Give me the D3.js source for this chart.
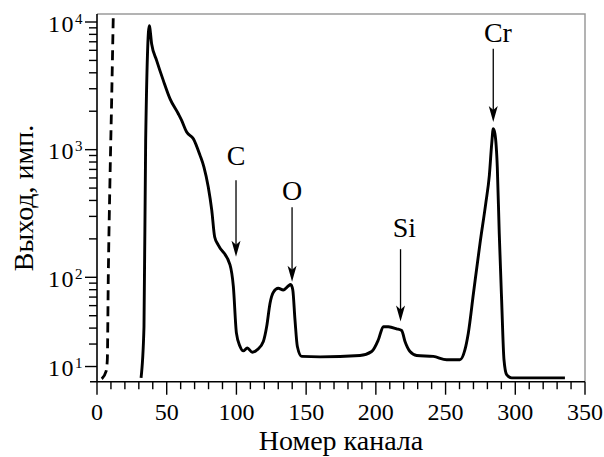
<!DOCTYPE html>
<html>
<head>
<meta charset="utf-8">
<script src="https://cdn.jsdelivr.net/npm/d3@7"></script>
<style>
  body { margin: 0; background: #fff; }
  text { font-family: "Liberation Serif", "DejaVu Serif", serif; fill: #000; }
</style>
</head>
<body>
<div id="graph"></div>
<script>
// main spectrum (channel, counts)
var mainChannel = [31.6, 33.7, 34.9, 37.5, 39.2, 42.8, 47.6, 52.4, 58.3, 60.7, 64.3, 69.1, 73.9, 76.7, 79.8, 82.3, 84.4, 87, 95.4,
  97.8, 100, 102.6, 104.9, 107.8, 111.4, 115, 119.3, 121.7, 124.1, 126.5, 130, 133.6, 137.2, 138.9, 140.4, 142, 143.7, 146.8,
  160, 188.6, 197, 201.8, 205.4, 209, 214.9, 218.5, 220.9, 224.5, 229.3, 241.2, 250.8, 260.3, 263.9, 266.3, 270, 274.7,
  278.8, 281.4, 283.1, 284.2, 285.4, 287.1, 288.5, 290.2, 291.9, 293.8, 297.4, 335.6]
var mainCounts = [16.3, 41, 1180, 9350, 6730, 4985, 3474, 2500, 1910, 1694, 1373, 1219, 902, 731, 510, 336, 207, 179, 125,
  84.5, 36.5, 28.7, 26.5, 27.9, 25.9, 27.1, 31.4, 41.1, 62.7, 76.4, 82, 79.5, 85.5, 88, 80, 46.4, 28.7, 24,
  23.8, 24.4, 26.2, 32.4, 41.1, 41, 39.5, 38.3, 31.4, 26.2, 24.4, 24, 22.6, 22.6, 27.1, 36.5, 75, 184.5,
  378, 630, 1113, 1459, 1333, 731, 221, 66.6, 22.6, 17.3, 16.3, 16.3]

// dashed spectrum, runs off the top
var dashChannel = [3.4, 6.5, 7.4, 8.1, 9.3, 10.5, 11.7, 12.5]
var dashCounts = [16, 18.3, 22.6, 101, 575, 2427, 11400, 30000]

// peak annotations
var annLabels = ["C", "O", "Si", "Cr"]
var annChannel = [99.7, 139.9, 217.7, 284.2]
var annTip = [144.9, 92.4, 45.0, 1643]
var annTail = [575, 354, 166, 6180]
var annText = [754, 402, 207, 6930]

// axis ticks
var xMajor = [0, 50, 100, 150, 200, 250, 300, 350]
var xMinor = d3.range(0, 351, 10)
var yMajor = [20, 100, 1000, 10000]
var yMajorExp = ["1", "2", "3", "4"]
var yMinor = [30, 40, 50, 60, 70, 80, 90, 200, 300, 400, 500, 600, 700, 800, 900,
  2000, 3000, 4000, 5000, 6000, 7000, 8000, 9000]

var w = 604, h = 457
var mLeft = 97, mRight = 585, mTop = 14, mBottom = 381.7

var x = d3.scaleLinear().domain([0, 350]).range([mLeft, mRight])
var y = d3.scaleLog().domain([100, 10000]).range([277.3, 22])

var svg = d3.select('#graph')
  .append('svg')
  .attr("width", w)
  .attr("height", h)

svg.append("clipPath").attr("id", "clip")
  .append("rect")
  .attr("x", mLeft).attr("y", mTop)
  .attr("width", mRight - mLeft).attr("height", mBottom - mTop)

// frame: gray top / right
svg.append("path")
  .attr("d", `M${mLeft},${mTop}H${mRight}V${mBottom}`)
  .attr("fill", "none")
  .attr("stroke", "#9a9a9a")
  .attr("stroke-width", 1.5)

// x axis
svg.append("line")
  .attr("x1", mLeft - 7).attr("x2", mRight)
  .attr("y1", mBottom).attr("y2", mBottom)
  .attr("stroke", "#000").attr("stroke-width", 1.6)

svg.append("g").selectAll("line")
  .data(xMinor)
  .enter().append("line")
  .attr("x1", d => x(d)).attr("x2", d => x(d))
  .attr("y1", mBottom)
  .attr("y2", d => mBottom + (xMajor.includes(d) ? 13 : 7.5))
  .attr("stroke", "#000").attr("stroke-width", 1.4)

svg.append("g").selectAll("text")
  .data(xMajor)
  .enter().append("text")
  .attr("x", d => x(d))
  .attr("y", 420)
  .attr("text-anchor", "middle")
  .style("font-size", "24px")
  .text(d => d)

// y axis
svg.append("line")
  .attr("x1", mLeft).attr("x2", mLeft)
  .attr("y1", mTop).attr("y2", mBottom)
  .attr("stroke", "#000").attr("stroke-width", 1.6)

svg.append("g").selectAll("line")
  .data(yMajor.concat(yMinor))
  .enter().append("line")
  .attr("x1", mLeft)
  .attr("x2", d => mLeft - (yMajor.includes(d) ? 12 : 8))
  .attr("y1", d => y(d)).attr("y2", d => y(d))
  .attr("stroke", "#000").attr("stroke-width", 1.4)

var yLab = svg.append("g").selectAll("text")
  .data(yMajor)
  .enter().append("text")
  .attr("x", 48)
  .attr("y", d => y(d) + 9.5)
  .style("font-size", "24px")

yLab.append("tspan").attr("letter-spacing", "1.5px").text("10")
yLab.append("tspan")
  .attr("dy", -8)
  .style("font-size", "15px")
  .text((d, i) => yMajorExp[i])

// axis titles
svg.append("text")
  .attr("x", (mLeft + mRight) / 2)
  .attr("y", 450)
  .attr("text-anchor", "middle")
  .style("font-size", "28px")
  .text("Номер канала")

svg.append("text")
  .attr("transform", "translate(33,198) rotate(-90)")
  .attr("text-anchor", "middle")
  .style("font-size", "28px")
  .text("Выход, имп.")

// curves
var plot = svg.append("g").attr("clip-path", "url(#clip)")

var line = d3.line()
  .x(d => x(d[0]))
  .y(d => y(d[1]))
  .curve(d3.curveMonotoneX)

plot.append("path")
  .attr("d", line(d3.zip(dashChannel, dashCounts)))
  .attr("fill", "none")
  .attr("stroke", "#000")
  .attr("stroke-width", 2.8)
  .attr("stroke-dasharray", "10,6")

plot.append("path")
  .attr("d", line(d3.zip(mainChannel, mainCounts)))
  .attr("fill", "none")
  .attr("stroke", "#000")
  .attr("stroke-width", 2.9)
  .attr("stroke-linejoin", "round")

// annotations
annLabels.forEach((lab, i) => {
  var ax = x(annChannel[i])
  var tip = y(annTip[i])
  svg.append("line")
    .attr("x1", ax).attr("x2", ax)
    .attr("y1", y(annTail[i])).attr("y2", tip - 8)
    .attr("stroke", "#000").attr("stroke-width", 1.3)
  svg.append("path")
    .attr("d", `M${ax},${tip}L${ax - 4.5},${tip - 16}L${ax},${tip - 12}L${ax + 4.5},${tip - 16}Z`)
    .attr("fill", "#000")
  var t = svg.append("text")
    .attr("y", y(annText[i]))
    .style("font-size", "28px")
    .text(lab)
  var first = t.node().getSubStringLength(0, 1)
  t.attr("x", ax - first / 2)
})
</script>
</body>
</html>
